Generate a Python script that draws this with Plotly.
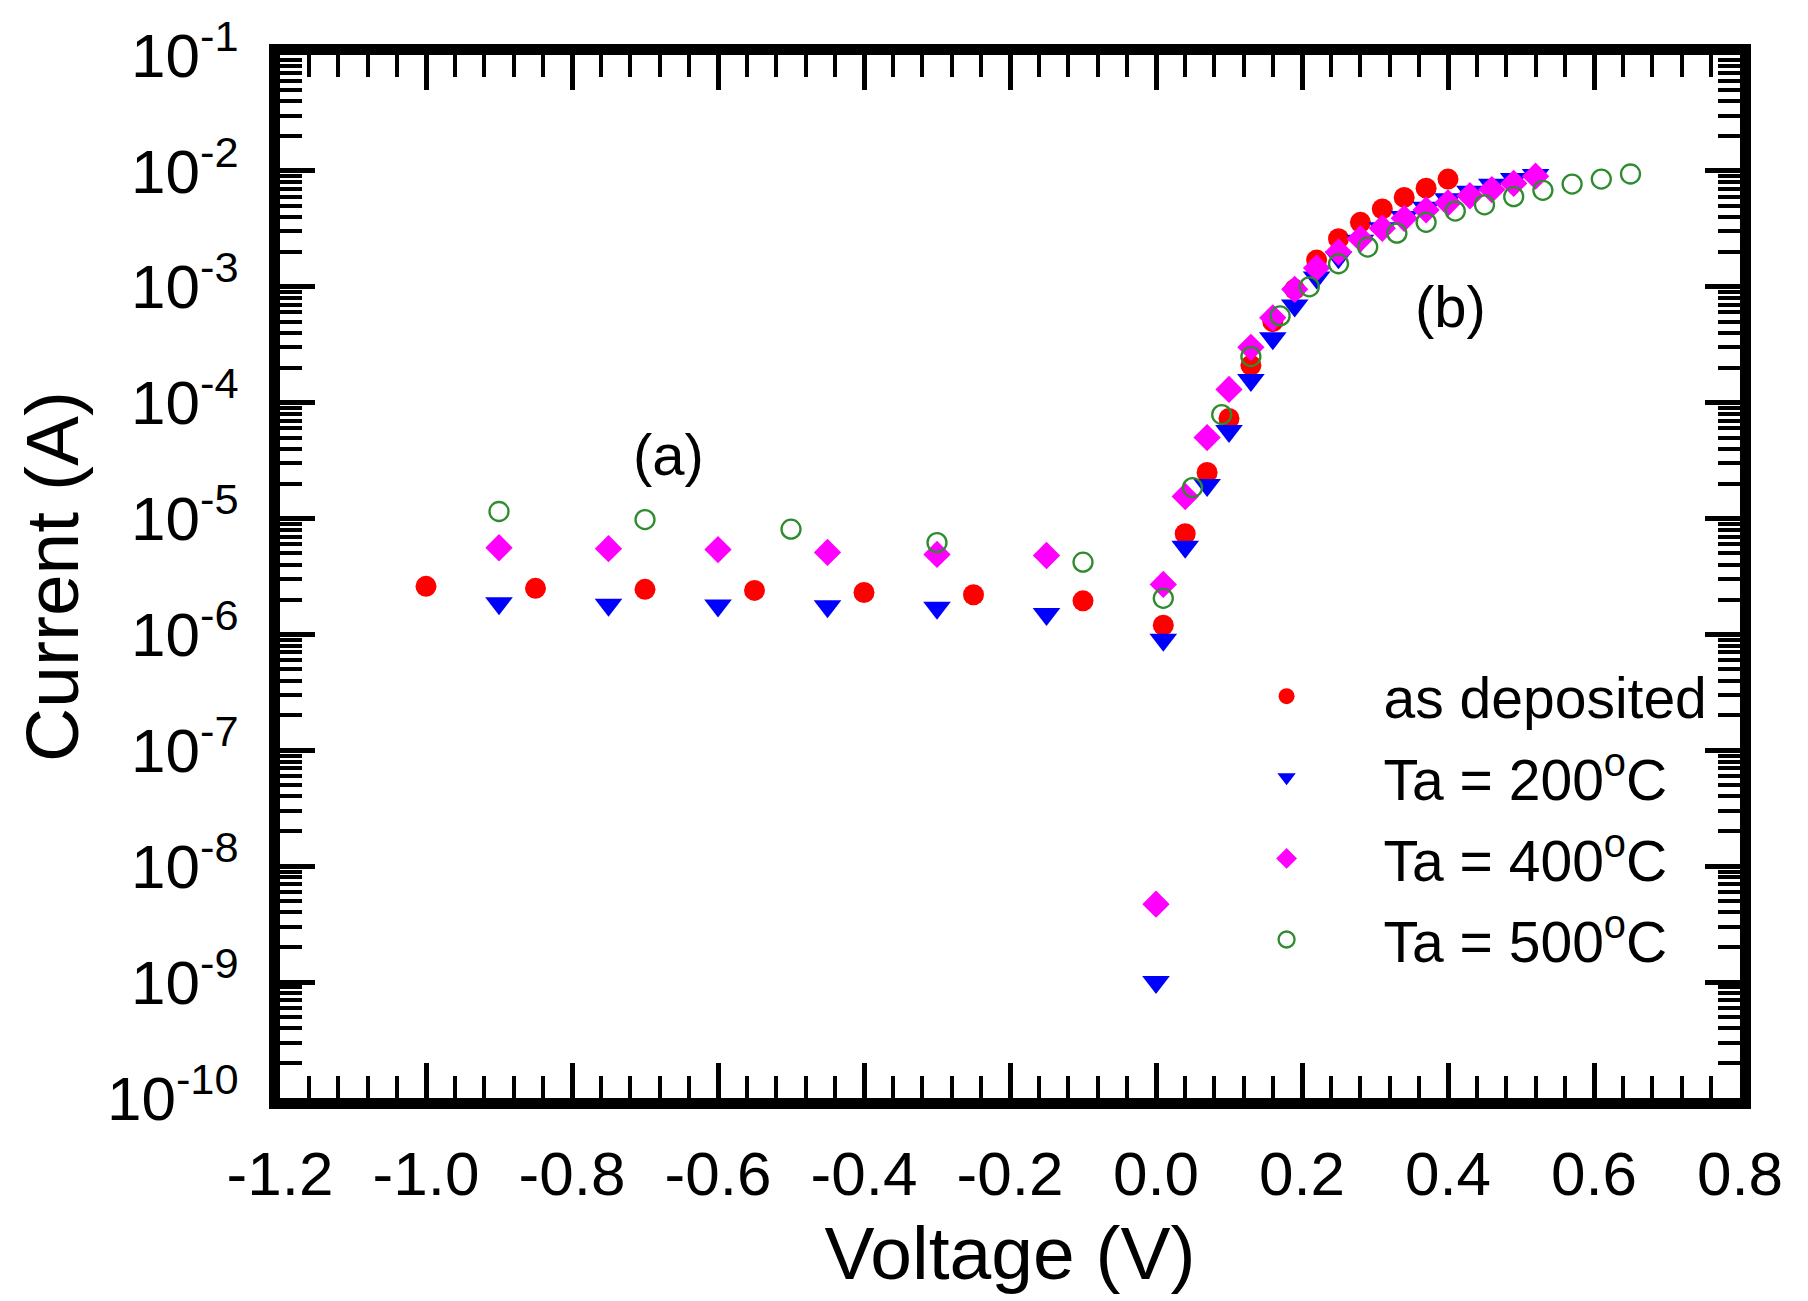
import plotly.graph_objects as go

# ---------------- data ----------------
v_asdep = [-1.0, -0.85, -0.7, -0.55, -0.4, -0.25, -0.1,
           0.01, 0.04, 0.07, 0.10, 0.13, 0.16, 0.19, 0.22, 0.25, 0.28, 0.31, 0.34, 0.37, 0.40]
i_asdep = [2.6e-6, 2.5e-6, 2.45e-6, 2.4e-6, 2.3e-6, 2.2e-6, 1.95e-6,
           1.2e-6, 7.4e-6, 2.5e-5, 7.3e-5, 2.1e-4, 5.0e-4, 9.5e-4, 1.7e-3, 2.6e-3, 3.6e-3,
           4.7e-3, 5.9e-3, 7.1e-3, 8.5e-3]

v_200 = [-0.9, -0.75, -0.6, -0.45, -0.3, -0.15, 0.0,
         0.01, 0.04, 0.07, 0.10, 0.13, 0.16, 0.19, 0.22, 0.25, 0.28, 0.31, 0.34, 0.37,
         0.40, 0.43, 0.46, 0.49, 0.52]
i_200 = [1.86e-6, 1.8e-6, 1.78e-6, 1.75e-6, 1.7e-6, 1.5e-6, 1.0e-9,
         9.0e-7, 5.7e-6, 1.95e-5, 5.7e-5, 1.57e-4, 3.6e-4, 6.9e-4, 1.2e-3, 1.8e-3, 2.5e-3,
         3.2e-3, 4.0e-3, 4.8e-3, 5.7e-3, 6.6e-3, 7.6e-3, 8.5e-3, 9.2e-3]

v_400 = [-0.9, -0.75, -0.6, -0.45, -0.3, -0.15, 0.0,
         0.01, 0.04, 0.07, 0.10, 0.13, 0.16, 0.19, 0.22, 0.25, 0.28, 0.31, 0.34, 0.37,
         0.40, 0.43, 0.46, 0.49, 0.52]
i_400 = [5.6e-6, 5.5e-6, 5.4e-6, 5.1e-6, 4.9e-6, 4.8e-6, 4.7e-9,
         2.7e-6, 1.55e-5, 5.0e-5, 1.3e-4, 3.0e-4, 5.4e-4, 9.5e-4, 1.45e-3, 2.0e-3, 2.6e-3,
         3.2e-3, 3.9e-3, 4.6e-3, 5.3e-3, 6.1e-3, 6.9e-3, 7.8e-3, 9.0e-3]

v_500 = [-0.9, -0.7, -0.5, -0.3, -0.1,
         0.01, 0.05, 0.09, 0.13, 0.17, 0.21, 0.25, 0.29, 0.33, 0.37, 0.41, 0.45, 0.49,
         0.53, 0.57, 0.61, 0.65]
i_500 = [1.15e-5, 9.8e-6, 8.1e-6, 6.2e-6, 4.2e-6,
         2.05e-6, 1.85e-5, 7.9e-5, 2.5e-4, 5.6e-4, 1.0e-3, 1.58e-3, 2.2e-3, 2.9e-3, 3.6e-3,
         4.5e-3, 5.1e-3, 6.0e-3, 6.8e-3, 7.7e-3, 8.5e-3, 9.4e-3]

names = ["as deposited", "Ta = 200<sup>o</sup>C", "Ta = 400<sup>o</sup>C", "Ta = 500<sup>o</sup>C"]

x_ticks = [-1.2, -1.0, -0.8, -0.6, -0.4, -0.2, 0.0, 0.2, 0.4, 0.6, 0.8]
x_ticktext = ["-1.2", "-1.0", "-0.8", "-0.6", "-0.4", "-0.2", "0.0", "0.2", "0.4", "0.6", "0.8"]
y_exponents = [-1, -2, -3, -4, -5, -6, -7, -8, -9, -10]
y_ticks = [10.0 ** e for e in y_exponents]
y_ticktext = ["10<sup>%d</sup>" % e for e in y_exponents]
y_minor = [k * 10.0 ** e for e in range(-10, -1) for k in range(2, 10)]

FONT = "Liberation Sans, Arial, sans-serif"

fig = go.Figure()
fig.add_trace(go.Scatter(x=v_asdep, y=i_asdep, mode="markers", name=names[0], legendgroup="a",
                         marker=dict(symbol="circle", size=21, color="#ff0000", line=dict(width=0))))
fig.add_trace(go.Scatter(x=v_200, y=i_200, mode="markers", name=names[1], legendgroup="b",
                         marker=dict(symbol="triangle-down", size=24, color="#0000ff", line=dict(width=0))))
fig.add_trace(go.Scatter(x=v_400, y=i_400, mode="markers", name=names[2], legendgroup="c",
                         marker=dict(symbol="diamond", size=21, color="#ff00ff", line=dict(width=0))))
fig.add_trace(go.Scatter(x=v_500, y=i_500, mode="markers", name=names[3], legendgroup="d",
                         marker=dict(symbol="circle-open", size=19, color="#2e8b2e",
                                     line=dict(width=2.3, color="#2e8b2e"))))

axis_common = dict(
    showline=True, linewidth=11, linecolor="black", mirror="ticks",
    ticks="inside", tickwidth=5, tickcolor="black",
    showgrid=False, zeroline=False,
    tickfont=dict(family=FONT, size=62, color="black"),
)

fig.update_xaxes(
    range=[-1.2, 0.8], tickmode="array", tickvals=x_ticks, ticktext=x_ticktext,
    ticklen=35, ticklabelstandoff=12,
    minor=dict(ticks="inside", dtick=0.04, tick0=-1.2, ticklen=22, tickwidth=4,
               tickcolor="black", showgrid=False),
    title=dict(text="Voltage (V)", font=dict(family=FONT, size=75, color="black"), standoff=24),
    **axis_common,
)
fig.update_yaxes(
    type="log", range=[-10, -1], tickmode="array", tickvals=y_ticks, ticktext=y_ticktext,
    ticklen=35, ticklabelstandoff=18,
    minor=dict(ticks="inside", tickmode="array", tickvals=y_minor, ticklen=22, tickwidth=4,
               tickcolor="black", showgrid=False),
    title=dict(text="Current (A)", font=dict(family=FONT, size=75, color="black"), standoff=8),
    **axis_common,
)

fig.add_annotation(x=-0.668, y=-4.45, text="(a)", showarrow=False,
                   font=dict(family=FONT, size=58, color="black"))
fig.add_annotation(x=0.404, y=-3.17, text="(b)", showarrow=False,
                   font=dict(family=FONT, size=58, color="black"))

fig.update_layout(
    width=1808, height=1301,
    margin=dict(l=280, r=68, t=48, b=203),
    paper_bgcolor="white", plot_bgcolor="white",
    showlegend=True,
    legend=dict(x=0.623, y=0.427, xanchor="left", yanchor="top",
                font=dict(family=FONT, size=57, color="black"),
                bgcolor="rgba(0,0,0,0)", borderwidth=0,
                itemwidth=184, tracegroupgap=4, traceorder="grouped",
                itemsizing="trace"),
)

fig.write_html("out.html")
